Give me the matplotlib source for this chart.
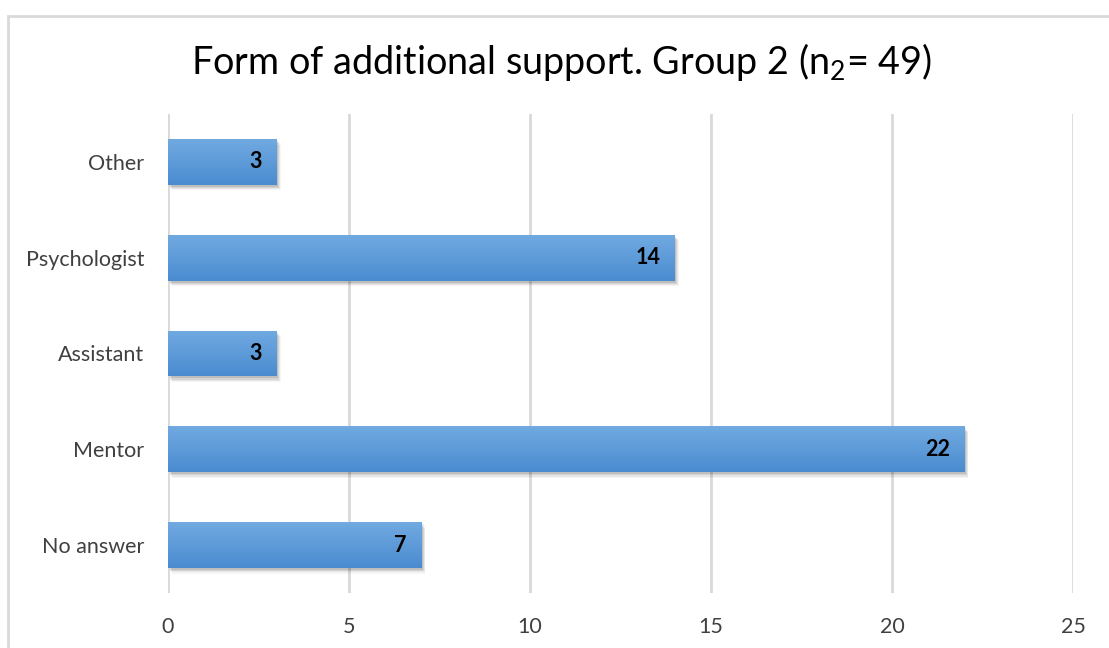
import matplotlib.pyplot as plt
import matplotlib.patches as mpatches
import matplotlib.transforms as mtransforms
import numpy as np
from matplotlib.colors import LinearSegmentedColormap

plt.rcParams['font.family'] = ['Lato', 'DejaVu Sans']
plt.rcParams['mathtext.fontset'] = 'custom'
plt.rcParams['mathtext.rm'] = 'Lato'

categories = ['No answer', 'Mentor', 'Assistant', 'Psychologist', 'Other']
counts = [7, 22, 3, 14, 3]
xticks = [0, 5, 10, 15, 20, 25]

fig = plt.figure(figsize=(11.09, 6.48), dpi=100)
ax = fig.add_axes([168 / 1109, 1 - 593 / 648, (1073 - 168) / 1109, (593 - 114) / 648])

# outer chart frame (left and top edges only show)
fig.patches.append(mpatches.Rectangle((7.5 / 1109, -0.1), 1.2, (640 - 8.5) / 648 + 0.1,
                                      transform=fig.transFigure, fill=False,
                                      edgecolor='#d9d9d9', linewidth=2))

ypos = np.arange(len(categories))
height = 0.48

bars = ax.barh(ypos, counts, height=height, color='none', edgecolor='none', zorder=3)

grad = LinearSegmentedColormap.from_list('bar', ['#4a8bd0', '#71aae1'])
gimg = np.linspace(0, 1, 256).reshape(-1, 1)

for bar, v in zip(bars, counts):
    x0, y0 = bar.get_x(), bar.get_y()
    w, h = bar.get_width(), bar.get_height()
    # soft drop shadow
    for k, a in enumerate([0.10, 0.08, 0.06, 0.04]):
        off = mtransforms.offset_copy(ax.transData, fig=fig, x=1.5 + k * 0.8, y=-(2 + k * 1.2), units='dots')
        ax.add_patch(mpatches.Rectangle((x0, y0), w, h, transform=off,
                                        facecolor='black', alpha=a, edgecolor='none', zorder=2))
    im = ax.imshow(gimg, cmap=grad, aspect='auto', extent=(x0, x0 + w, y0, y0 + h),
                   origin='lower', zorder=3, interpolation='bilinear')
    clip = mpatches.Rectangle((x0, y0), w, h, transform=ax.transData, facecolor='none', edgecolor='none')
    ax.add_patch(clip)
    im.set_clip_path(clip)
    ax.text(v - 0.4, y0 + h / 2, str(v), ha='right', va='center',
            fontsize=15.5, fontweight='bold', color='black', zorder=4)

ax.set_xlim(0, 25)
ax.set_ylim(-0.5, len(categories) - 0.5)
ax.set_xticks(xticks)
ax.set_yticks(ypos)
ax.set_yticklabels(categories)
ax.tick_params(axis='both', length=0, labelsize=15.5, colors='#404040')
ax.tick_params(axis='x', pad=17)
ax.tick_params(axis='y', pad=17)
ax.grid(axis='x', color='#d9d9d9', linewidth=2, zorder=0)
ax.set_axisbelow(True)
for s in ax.spines.values():
    s.set_visible(False)

fig.text(0.506, 1 - 62 / 648, r'Form of additional support. Group 2 (n$_{\mathrm{2}}$= 49)',
         ha='center', va='center', fontsize=27.2, color='black')

fig.savefig('out.png', dpi=100)
